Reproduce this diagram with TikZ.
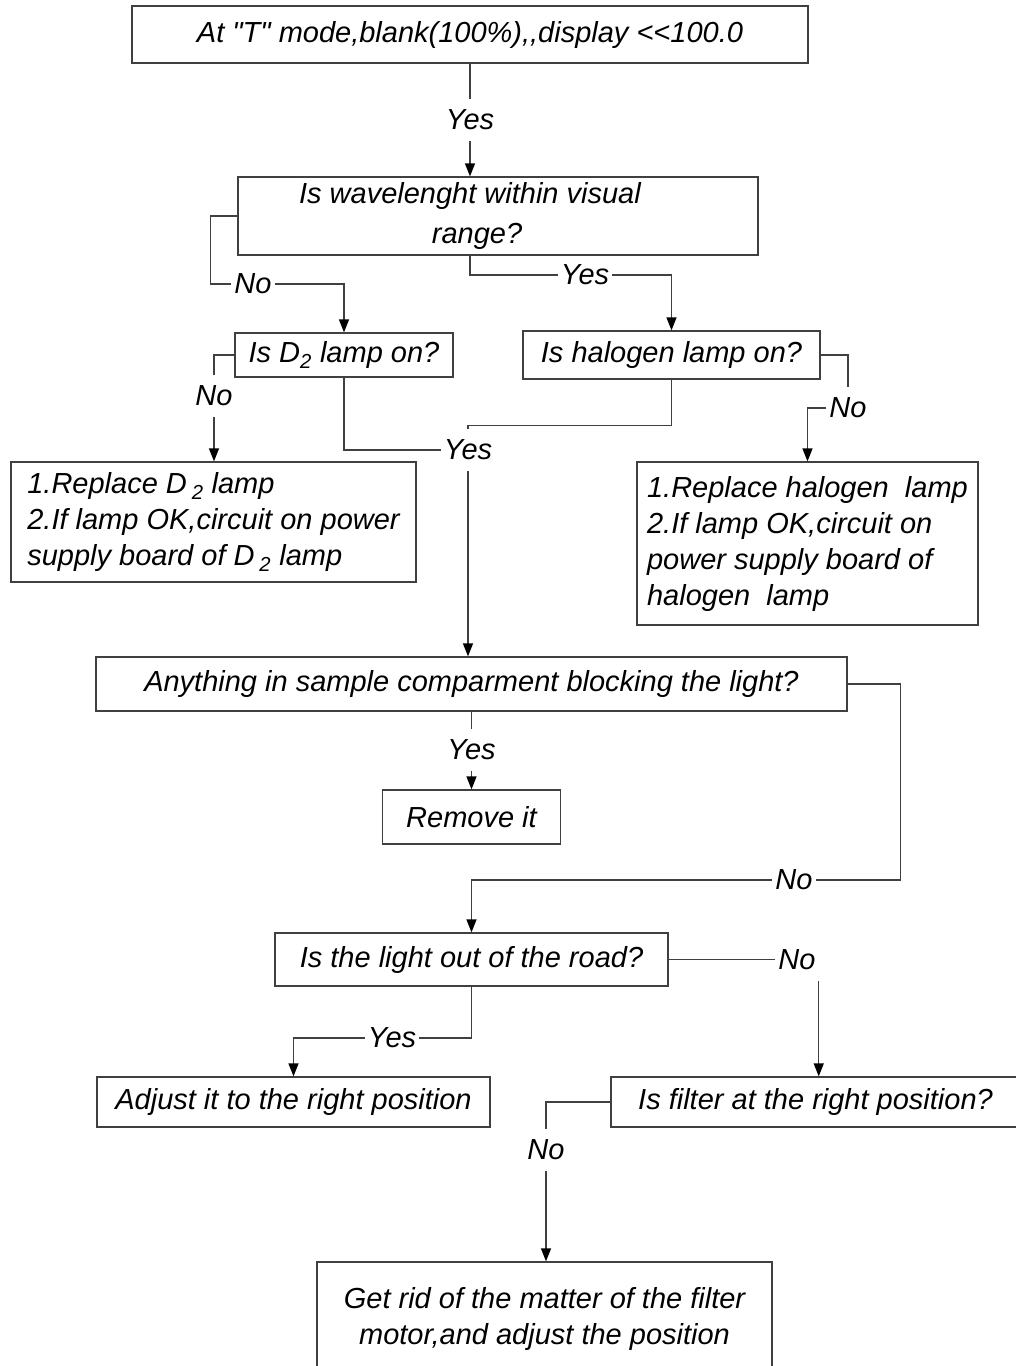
\documentclass[tikz,border=0pt]{standalone}
\usepackage{fontspec}
\newfontfamily\arialfont{Liberation Sans}
\usetikzlibrary{arrows.meta}

\begin{document}
\begin{tikzpicture}[x=1pt, y=-1pt
			,every node/.append style={font=\arialfont\itshape\fontsize{29}{36}\selectfont}
			,box/.style={draw=black!75, line width=1.3pt, inner sep=0pt}
			,lbl/.style={inner xsep=3pt, inner ysep=11pt}
			,line/.style={draw=black!75, line width=1.3pt}
			,arr/.style={line, -{Triangle[length=13pt,width=10pt,color=black]}}
		]
			\useasboundingbox (0,0) rectangle (1016,1366);

			% boxes
			\node [box, minimum width=676pt, minimum height=57pt] (A) at (470,34.5) {At "T" mode,blank(100\%),,display <<100.0};
			\node [box, minimum width=520pt, minimum height=78pt] (B) at (498,216) {};
			\node [align=center, font=\arialfont\itshape\fontsize{29}{40}\selectfont] (Bt) at (470,216) {Is wavelenght within visual\\\hspace*{14pt}range?};
			\node [box, minimum width=218pt, minimum height=44pt] (C) at (344,355) {Is D\textsubscript{2} lamp on?};
			\node [box, minimum width=297pt, minimum height=48pt] (D) at (671.5,355) {Is halogen lamp on?};
			\node [box, align=left, minimum width=405pt, minimum height=120pt] (E) at (213.5,522)
				{1.Replace D\,\textsubscript{2} lamp\\2.If lamp OK,circuit on power\\supply board of D\,\textsubscript{2} lamp};
			\node [box, align=left, minimum width=341pt, minimum height=163pt] (F) at (807.5,543.5)
				{1.Replace halogen\ \ lamp\\2.If lamp OK,circuit on\\power supply board of\\halogen\ \ lamp};
			\node [box, minimum width=751pt, minimum height=54pt] (G) at (471.5,684) {Anything in sample comparment blocking the light?};
			\node [box, minimum width=178pt, minimum height=54pt] (H) at (471.5,817) {Remove it};
			\node [box, minimum width=393pt, minimum height=53pt] (I) at (471.5,959.5) {Is the light out of the road?};
			\node [box, minimum width=393pt, minimum height=50pt] (J) at (293.5,1102) {Adjust it to the right position};
			\node [box, minimum width=409pt, minimum height=50pt] (K) at (815.5,1102) {Is filter at the right position?};
			\node [box, align=center, minimum width=455pt, minimum height=114pt] (L) at (544.5,1319)
				{Get rid of the matter of the filter\\motor,and adjust the position};

			% labels
			\node [lbl] (y1) at (470,120) {Yes};
			\node [lbl] (n1) at (253,284) {No};
			\node [lbl] (y2) at (585,275) {Yes};
			\node [lbl] (n2) at (214,396) {No};
			\node [lbl] (y3) at (468,450) {Yes};
			\node [lbl] (n3) at (848,408) {No};
			\node [lbl] (y4) at (471.5,750) {Yes};
			\node [lbl] (n4) at (794,880) {No};
			\node [lbl] (n5) at (797,959.5) {No};
			\node [lbl] (y5) at (392,1038) {Yes};
			\node [lbl] (n6) at (546,1150) {No};

			% connectors
			\draw [line] (A) -- (y1);
			\draw [arr] (y1) -- (B.north -| y1);
			\draw [line] (B.west) -- ++(-27,0) |- (n1);
			\draw [arr] (n1) -| (C);
			\draw [line] (Bt |- B.south) |- (y2);
			\draw [arr] (y2) -| (D);
			\draw [line] (C) -| (n2);
			\draw [arr] (n2) -- (n2 |- E.north);
			\draw [line] (C) |- (y3);
			\draw [line] (D.south) -- ++(0,46) -| (y3);
			\draw [arr] (y3) -- (y3 |- G.north);
			\draw [line] (D) -| (n3);
			\draw [arr] (n3) -| (F);
			\draw [line] (G) -- (y4);
			\draw [arr] (y4) -- (H);
			\draw [line] (G.east) -- ++(53,0) |- (n4);
			\draw [arr] (n4) -| (I);
			\draw [line] (I) -- (n5);
			\draw [arr] (n5.south east) -- (n5.south east |- K.north);
			\draw [line] (I) |- (y5);
			\draw [arr] (y5) -| (J);
			\draw [line] (K) -| (n6);
			\draw [arr] (n6) -- (n6 |- L.north);
		\end{tikzpicture}
\end{document}
